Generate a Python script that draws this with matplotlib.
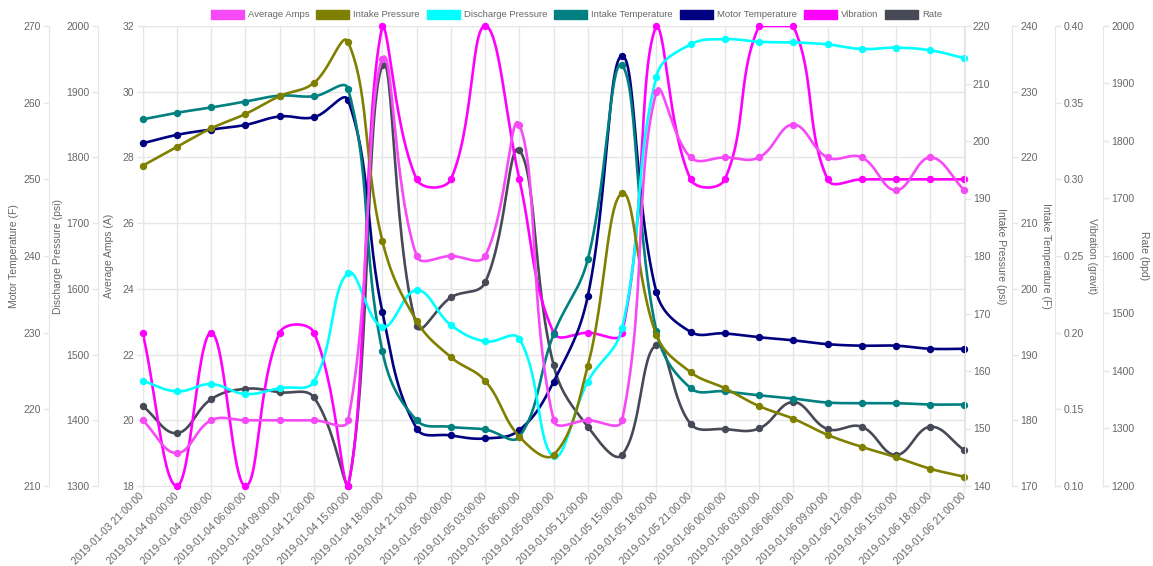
import numpy as np
import matplotlib
matplotlib.use("Agg")
import matplotlib.pyplot as plt
from matplotlib.patches import Patch
from matplotlib.ticker import FuncFormatter

plt.rcParams["font.family"] = ["Liberation Sans", "DejaVu Sans"]
plt.rcParams["font.size"] = 7.5

# ---- data -----------------------------------------------------------------
timestamps = [
    "2019-01-03 21:00:00", "2019-01-04 00:00:00", "2019-01-04 03:00:00",
    "2019-01-04 06:00:00", "2019-01-04 09:00:00", "2019-01-04 12:00:00",
    "2019-01-04 15:00:00", "2019-01-04 18:00:00", "2019-01-04 21:00:00",
    "2019-01-05 00:00:00", "2019-01-05 03:00:00", "2019-01-05 06:00:00",
    "2019-01-05 09:00:00", "2019-01-05 12:00:00", "2019-01-05 15:00:00",
    "2019-01-05 18:00:00", "2019-01-05 21:00:00", "2019-01-06 00:00:00",
    "2019-01-06 03:00:00", "2019-01-06 06:00:00", "2019-01-06 09:00:00",
    "2019-01-06 12:00:00", "2019-01-06 15:00:00", "2019-01-06 18:00:00",
    "2019-01-06 21:00:00",
]

average_amps = [20, 19, 20, 20, 20, 20, 20, 31, 25, 25, 25, 29, 20, 20, 20,
                30, 28, 28, 28, 29, 28, 28, 27, 28, 27]
intake_pressure = [195.7, 199.0, 202.2, 204.7, 207.8, 210.1, 217.2, 182.6,
                   168.7, 162.4, 158.3, 148.6, 145.4, 160.9, 190.9, 166.3,
                   159.8, 157.0, 153.9, 151.7, 148.9, 146.8, 145.0, 143.0, 141.6]
discharge_pressure = [1460, 1444, 1455, 1440, 1449, 1459, 1624, 1542, 1598,
                      1545, 1520, 1524, 1345, 1459, 1540, 1923, 1972, 1980,
                      1976, 1975, 1972, 1965, 1967, 1963, 1951]
intake_temperature = [225.8, 226.8, 227.6, 228.5, 229.4, 229.3, 230.4, 190.5,
                      180.0, 179.0, 178.6, 177.5, 193.1, 204.5, 234.0, 193.6,
                      184.9, 184.4, 183.8, 183.3, 182.7, 182.6, 182.6, 182.4, 182.4]
motor_temperature = [254.7, 255.8, 256.5, 257.1, 258.2, 258.1, 260.3, 232.7,
                     217.5, 216.6, 216.2, 217.3, 223.6, 234.8, 266.1, 235.3,
                     230.1, 229.9, 229.4, 229.0, 228.5, 228.3, 228.3, 227.9, 227.9]
vibration = [0.20, 0.10, 0.20, 0.10, 0.20, 0.20, 0.10, 0.40, 0.30, 0.30, 0.40,
             0.30, 0.20, 0.20, 0.20, 0.40, 0.30, 0.30, 0.40, 0.40, 0.30, 0.30,
             0.30, 0.30, 0.30]
rate = [1339, 1292, 1351, 1369, 1363, 1354, 1200, 1932, 1478, 1528, 1554, 1784,
        1410, 1303, 1254, 1445, 1308, 1299, 1300, 1346, 1299, 1303, 1254, 1303, 1262]

# ---- styling ----------------------------------------------------------------
GRID = "#e6e6e6"
TXT = "#666666"
FS = 7.5
LEG_FS = 6.8

W_PX, H_PX = 1153, 566
left_px, right_px, top_px, bottom_px = 142.7, 964.5, 26.0, 486.0
AREA_W = right_px - left_px
AREA_H = bottom_px - top_px


def smooth(values, lo, hi, tension=0.4, steps=30):
    """Bezier spline through the points with capped control points."""
    n = len(values)
    px = np.arange(n) * AREA_W / (n - 1)
    py = (np.asarray(values, float) - lo) / (hi - lo) * AREA_H
    prev_cp = np.zeros((n, 2))
    next_cp = np.zeros((n, 2))
    for i in range(n):
        a = max(i - 1, 0)
        c = min(i + 1, n - 1)
        d01 = np.hypot(px[i] - px[a], py[i] - py[a])
        d12 = np.hypot(px[c] - px[i], py[c] - py[i])
        tot = d01 + d12
        s01 = d01 / tot if tot else 0.0
        s12 = d12 / tot if tot else 0.0
        fa, fb = tension * s01, tension * s12
        dx, dy = px[c] - px[a], py[c] - py[a]
        prev_cp[i] = (px[i] - fa * dx, py[i] - fa * dy)
        next_cp[i] = (px[i] + fb * dx, py[i] + fb * dy)
    for cp in (prev_cp, next_cp):
        cp[:, 0] = np.clip(cp[:, 0], 0, AREA_W)
        cp[:, 1] = np.clip(cp[:, 1], 0, AREA_H)
    t = np.linspace(0, 1, steps)[:, None]
    out = []
    for i in range(n - 1):
        p0 = np.array([px[i], py[i]])
        p3 = np.array([px[i + 1], py[i + 1]])
        p1 = next_cp[i]
        p2 = prev_cp[i + 1]
        seg = ((1 - t) ** 3) * p0 + 3 * ((1 - t) ** 2) * t * p1 \
            + 3 * (1 - t) * t ** 2 * p2 + t ** 3 * p3
        out.append(seg if i == 0 else seg[1:])
    pts = np.vstack(out)
    xs = pts[:, 0] / AREA_W * (n - 1)
    ys = lo + pts[:, 1] / AREA_H * (hi - lo)
    return xs, ys


fig = plt.figure(figsize=(W_PX / 100, H_PX / 100), dpi=100)
ax = fig.add_axes([left_px / W_PX, 1 - bottom_px / H_PX,
                   AREA_W / W_PX, AREA_H / H_PX])
ax.set_zorder(0)

x = np.arange(len(timestamps))
ax.set_xlim(0, len(timestamps) - 1)
ax.set_xticks(x)
ax.set_xticklabels(timestamps, rotation=45, ha="right", va="center",
                   rotation_mode="anchor", color=TXT, fontsize=FS)
ax.tick_params(axis="x", length=5, color=GRID, width=1, pad=1)
ax.grid(True, color=GRID, linewidth=1)
ax.set_axisbelow(True)
for side in ("top", "bottom", "left", "right"):
    ax.spines[side].set_color(GRID)
ax.spines["right"].set_visible(False)


def fmt_for(decimals):
    return FuncFormatter(lambda v, _: f"{v:.{decimals}f}")


def style_axis(a, side, pos, lo, hi, step, decimals, label, label_x):
    a.set_ylim(lo, hi)
    a.set_yticks(np.arange(lo, hi + step / 2, step))
    a.yaxis.set_major_formatter(fmt_for(decimals))
    for s in a.spines.values():
        s.set_visible(False)
    sp = a.spines[side]
    sp.set_visible(True)
    sp.set_position(("axes", pos))
    sp.set_color(GRID)
    if side == "left":
        a.yaxis.tick_left()
        a.yaxis.set_label_position("left")
        rot = 90
    else:
        a.yaxis.tick_right()
        a.yaxis.set_label_position("right")
        rot = 270
    a.tick_params(axis="y", length=4, width=1, color=GRID, labelcolor=TXT,
                  labelsize=FS, pad=2)
    a.set_ylabel(label, rotation=rot, color=TXT, fontsize=FS,
                 ha="center", va="center")
    a.yaxis.set_label_coords(label_x, 0.5)


# host axis carries the amps scale and the grid
style_axis(ax, "left", 0.0, 18, 32, 2, 0, "Average Amps (A)", -0.041)
ax.spines["top"].set_visible(True)
ax.spines["bottom"].set_visible(True)

series = [
    # label, values, color, (lo, hi, step, decimals), side, spine pos, axis title, title x
    ("Average Amps", average_amps, "#f64af6", (18, 32, 2, 0), None, None, None, None),
    ("Intake Pressure", intake_pressure, "#808000", (140, 220, 10, 0), "right", 1.0,
     "Intake Pressure (psi)", 1.0444),
    ("Discharge Pressure", discharge_pressure, "#00ffff", (1300, 2000, 100, 0), "left",
     -0.0544, "Discharge Pressure (psi)", -0.103),
    ("Intake Temperature", intake_temperature, "#008080", (170, 240, 10, 0), "right",
     1.058, "Intake Temperature (F)", 1.0992),
    ("Motor Temperature", motor_temperature, "#000080", (210, 270, 10, 0), "left",
     -0.114, "Motor Temperature (F)", -0.157),
    ("Vibration", vibration, "#ff00ff", (0.10, 0.40, 0.05, 2), "right", 1.1106,
     "Vibration (gravit)", 1.1552),
    ("Rate", rate, "#474a56", (1200, 2000, 100, 0), "right", 1.1681,
     "Rate (bpd)", 1.2184),
]

handles = []
n_series = len(series)
for k, (name, vals, color, (lo, hi, step, dec), side, pos, label, lx) in enumerate(series):
    a = ax.twinx()
    # first dataset is drawn on top
    a.set_zorder(n_series - k)
    a.patch.set_visible(False)
    if side is None:
        a.set_ylim(lo, hi)
        for s in a.spines.values():
            s.set_visible(False)
        a.set_yticks([])
    else:
        style_axis(a, side, pos, lo, hi, step, dec, label, lx)
    xs, ys = smooth(vals, lo, hi)
    a.plot(xs, ys, color=color, lw=1.9, solid_capstyle="round",
           solid_joinstyle="round")
    a.plot(x, vals, linestyle="none", marker="o", markersize=4.3,
           color=color, markeredgecolor=color, clip_on=False)
    handles.append(Patch(facecolor=color, edgecolor=color, label=name))

fig.legend(handles=handles, loc="center", bbox_to_anchor=(0.5, 1 - 14.5 / H_PX),
           ncol=len(handles), frameon=False, fontsize=LEG_FS,
           handlelength=3.5, handleheight=1.17, handletextpad=0.42,
           columnspacing=0.74, labelcolor=TXT)

fig.savefig("out.png", dpi=100)
